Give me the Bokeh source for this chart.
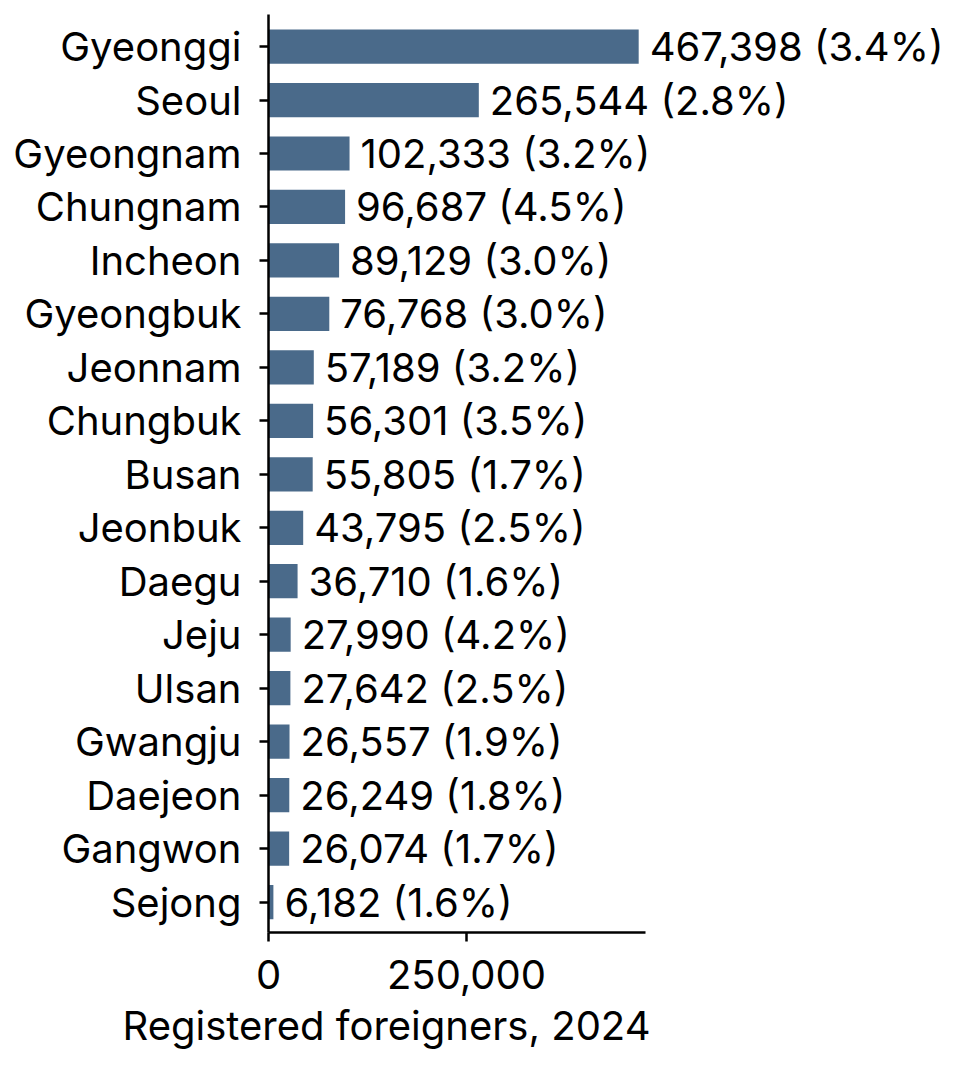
from bokeh.plotting import figure
from bokeh.models import ColumnDataSource, LabelSet, FixedTicker, Range1d, Title
from bokeh.core.properties import value
from bokeh.embed import file_html
from bokeh.resources import INLINE

regions = ["Gyeonggi", "Seoul", "Gyeongnam", "Chungnam", "Incheon", "Gyeongbuk",
           "Jeonnam", "Chungbuk", "Busan", "Jeonbuk", "Daegu", "Jeju", "Ulsan",
           "Gwangju", "Daejeon", "Gangwon", "Sejong"]
foreigners = [467398, 265544, 102333, 96687, 89129, 76768, 57189, 56301, 55805,
              43795, 36710, 27990, 27642, 26557, 26249, 26074, 6182]
shares = [3.4, 2.8, 3.2, 4.5, 3.0, 3.0, 3.2, 3.5, 1.7, 2.5, 1.6, 4.2, 2.5, 1.9, 1.8, 1.7, 1.6]
x_ticks = [0, 250000]
x_tick_labels = ["0", "250,000"]
x_label = "Registered foreigners, 2024"

FONT = "Inter"
FS = "40px"
BAR = "#4a6a8a"

n = len(regions)
ypos = [n - 1 - i for i in range(n)]
labels = [f"{v:,} ({s:.1f}%)" for v, s in zip(foreigners, shares)]
src = ColumnDataSource(dict(y=ypos, v=foreigners, lab=labels))

axis_end = 476000
frame_w = 680
p = figure(frame_width=frame_w, frame_height=918,
           x_range=Range1d(0, axis_end * frame_w / 377), y_range=Range1d(-0.57, n - 0.4),
           output_backend="svg", toolbar_location=None,
           min_border_left=268, min_border_right=0, min_border_top=14, min_border_bottom=128)
p.outline_line_color = None
p.grid.grid_line_color = None

p.hbar(y="y", right="v", left=0, height=0.64, source=src, fill_color=BAR, line_color=None)

p.add_layout(LabelSet(x="v", y="y", text="lab", source=src, x_offset=11,
                      text_baseline="middle", text_font=value(FONT), text_font_size=value(FS),
                      text_color="black"))

ya = p.yaxis[0]
ya.ticker = FixedTicker(ticks=ypos)
ya.major_label_overrides = {y: r for y, r in zip(ypos, regions)}
ya.minor_tick_line_color = None
ya.major_tick_out = 9
ya.major_tick_in = 0
ya.axis_line_width = 2.5
ya.major_tick_line_width = 2.5
ya.major_label_text_font = FONT
ya.major_label_text_font_size = FS
ya.major_label_text_color = "black"
ya.major_label_standoff = 18

xa = p.xaxis[0]
xa.ticker = FixedTicker(ticks=x_ticks)
xa.major_label_overrides = {t: l for t, l in zip(x_ticks, x_tick_labels)}
xa.bounds = (0, axis_end)
xa.minor_tick_line_color = None
xa.major_tick_out = 9
xa.major_tick_in = 0
xa.axis_line_width = 2.5
xa.major_tick_line_width = 2.5
xa.major_label_text_font = FONT
xa.major_label_text_font_size = FS
xa.major_label_text_color = "black"
xa.major_label_standoff = 18

p.add_layout(Title(text=x_label, align="left", offset=-146, text_font=FONT,
                   text_font_size=FS, text_font_style="normal", text_color="black",
                   standoff=14), "below")

open("out.html", "w").write(file_html(p, INLINE))
